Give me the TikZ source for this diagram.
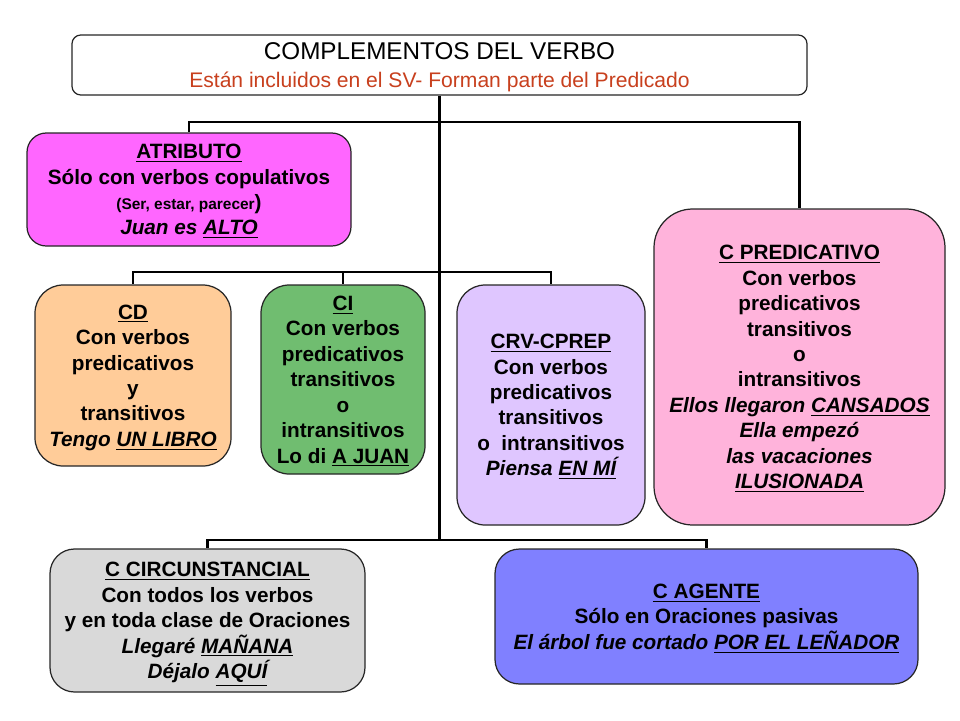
\documentclass[tikz,border=0pt]{standalone}
\usepackage{fontspec}
\setmainfont{Liberation Sans}
\usepackage{tikz}
\usetikzlibrary{shapes}

\definecolor{subred}{HTML}{C8401E}
\definecolor{atrib}{HTML}{FF66FF}
\definecolor{cdfill}{HTML}{FFCC99}
\definecolor{cifill}{HTML}{70BD70}
\definecolor{crvfill}{HTML}{DFC6FF}
\definecolor{predfill}{HTML}{FFB3DB}
\definecolor{circfill}{HTML}{D9D9D9}
\definecolor{agfill}{HTML}{8080FF}

\begin{document}
\begin{tikzpicture}[x=0.02cm,y=-0.02cm]
  \useasboundingbox (0,0) rectangle (960,720);
  \tikzstyle{cbox}=[rectangle,draw=black!85,line width=0.7pt,align=center,inner sep=2pt,
                    text depth=-2.5pt,font={\fontsize{11.8}{14.5}\selectfont\bfseries}]
  \tikzstyle{sz}=[minimum width=#1*0.02cm]
  \tikzstyle{ht}=[minimum height=#1*0.02cm]
  \tikzstyle{link}=[line width=1.6pt,black]

%% title box
  \node[cbox,sz=735,ht=60,rounded corners=5pt,fill=white,
        font={\fontsize{12}{15.5}\selectfont}] (verbo) at (439.5,65)
    {{\fontsize{13.8}{15.5}\selectfont COMPLEMENTOS DEL VERBO}\\
     \textcolor{subred}{Están incluidos en el SV- Forman parte del Predicado}};

%% first row
  \node[cbox,sz=324,ht=113,rounded corners=11pt,fill=atrib] (atributo) at (189,189.5)
    {\underline{ATRIBUTO}\\
     Sólo con verbos copulativos\\
     {\fontsize{8.8}{14.5}\selectfont (Ser, estar, parecer})\\
     \itshape Juan es \underline{ALTO}};
  \node[cbox,sz=291,ht=316,rounded corners=22pt,fill=predfill] (cpred) at (799.5,367)
    {\underline{C PREDICATIVO}\\
     Con verbos\\ predicativos\\ transitivos\\ o\\ intransitivos\\
     \itshape Ellos llegaron \underline{CANSADOS}\\
     \itshape Ella empezó\\
     \itshape las vacaciones\\
     \itshape \underline{ILUSIONADA}};

%% second row
  \node[cbox,sz=196,ht=181,rounded corners=16pt,fill=cdfill] (cd) at (133,375.5)
    {\underline{CD}\\ Con verbos\\ predicativos\\ y\\ transitivos\\
     \itshape Tengo \underline{UN LIBRO}};
  \node[cbox,sz=164,ht=189,rounded corners=16pt,fill=cifill] (ci) at (343,379.5)
    {\underline{CI}\\ Con verbos\\ predicativos\\ transitivos\\ o\\ intransitivos\\
     Lo di \underline{A JUAN}};
  \node[cbox,sz=188,ht=240,rounded corners=16pt,fill=crvfill] (crv) at (551,405)
    {\underline{CRV-CPREP}\\ Con verbos\\ predicativos\\ transitivos\\ o\ \ intransitivos\\
     \itshape Piensa \underline{EN MÍ}};

%% third row
  \node[cbox,sz=315,ht=143,rounded corners=14pt,fill=circfill] (ccirc) at (207.5,620.5)
    {\underline{C CIRCUNSTANCIAL}\\ Con todos los verbos\\ y en toda clase de Oraciones\\
     \itshape Llegaré \underline{MAÑANA}\\
     \itshape Déjalo \underline{AQUÍ}};
  \node[cbox,sz=423,ht=135,rounded corners=14pt,fill=agfill] (cagente) at (706.5,616.5)
    {\underline{C AGENTE}\\ Sólo en Oraciones pasivas\\
     \itshape El árbol fue cortado \underline{POR EL LEÑADOR}};

%% connections
  \coordinate (top-j) at (439.5,122);
  \coordinate (mid-j) at (439.5,272);
  \coordinate (bot-j) at (439.5,540);
  \draw[link] (verbo) -- (bot-j);
  \foreach \b in {atributo,cpred}
    \draw[link] (top-j) -| (\b);
  \foreach \b in {cd,ci,crv}
    \draw[link] (mid-j) -| (\b);
  \foreach \b in {ccirc,cagente}
    \draw[link] (bot-j) -| (\b);
\end{tikzpicture}
\end{document}
